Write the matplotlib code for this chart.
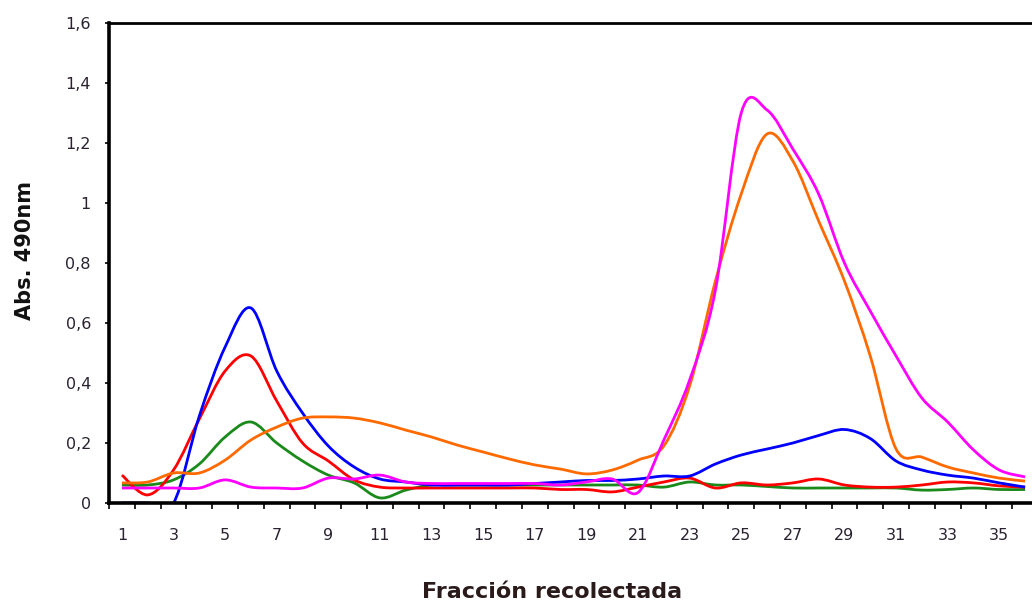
import numpy as np
import matplotlib.pyplot as plt
from matplotlib.path import Path
from matplotlib.patches import PathPatch

# fractions collected (Excel category axis 1..36)
fractions = np.arange(1, 37)

blue = [0.0, 0.0, 0.0, 0.29, 0.52, 0.65, 0.44, 0.30, 0.19, 0.12, 0.08, 0.07,
        0.06, 0.06, 0.06, 0.06, 0.065, 0.07, 0.075, 0.075, 0.08, 0.09, 0.09, 0.13,
        0.16, 0.18, 0.20, 0.225, 0.245, 0.215, 0.14, 0.11, 0.093, 0.083, 0.067, 0.053]
red = [0.093, 0.027, 0.11, 0.28, 0.44, 0.49, 0.34, 0.20, 0.14, 0.077, 0.053, 0.05,
       0.05, 0.05, 0.05, 0.05, 0.05, 0.045, 0.045, 0.037, 0.053, 0.07, 0.083, 0.05,
       0.067, 0.06, 0.067, 0.08, 0.06, 0.053, 0.053, 0.06, 0.07, 0.067, 0.057, 0.053]
green = [0.06, 0.06, 0.077, 0.13, 0.22, 0.27, 0.20, 0.14, 0.093, 0.067, 0.017, 0.043,
         0.06, 0.06, 0.06, 0.06, 0.06, 0.06, 0.06, 0.06, 0.06, 0.053, 0.07, 0.06,
         0.06, 0.055, 0.05, 0.05, 0.05, 0.05, 0.05, 0.043, 0.045, 0.05, 0.045, 0.045]
orange = [0.067, 0.07, 0.10, 0.10, 0.143, 0.21, 0.253, 0.283, 0.287, 0.283, 0.267, 0.243,
          0.22, 0.193, 0.17, 0.147, 0.127, 0.113, 0.097, 0.11, 0.143, 0.19, 0.39, 0.74,
          1.03, 1.23, 1.14, 0.94, 0.74, 0.49, 0.18, 0.153, 0.12, 0.10, 0.083, 0.073]
magenta = [0.05, 0.05, 0.05, 0.05, 0.077, 0.053, 0.05, 0.05, 0.083, 0.08, 0.093, 0.07,
           0.065, 0.065, 0.065, 0.065, 0.065, 0.06, 0.07, 0.08, 0.035, 0.21, 0.41, 0.71,
           1.30, 1.31, 1.18, 1.03, 0.80, 0.64, 0.49, 0.35, 0.27, 0.177, 0.11, 0.087]

series = [
    (green, '#1a8a1a'),
    (red, '#ff0000'),
    (blue, '#0000ff'),
    (orange, '#ff6a00'),
    (magenta, '#ff00ff'),
]

y_ticks = [0, 0.2, 0.4, 0.6, 0.8, 1.0, 1.2, 1.4, 1.6]
y_labels = ['0', '0,2', '0,4', '0,6', '0,8', '1', '1,2', '1,4', '1,6']
x_labels = [str(n) for n in range(1, 37, 2)]


def smooth_path(x, y):
    # Excel-style "smoothed line": cubic bezier through every data point
    pts = np.column_stack([x, y]).astype(float)
    n = len(pts)
    verts = [pts[0]]
    codes = [Path.MOVETO]
    for i in range(n - 1):
        p0 = pts[max(i - 1, 0)]
        p1 = pts[i]
        p2 = pts[i + 1]
        p3 = pts[min(i + 2, n - 1)]
        verts += [p1 + (p2 - p0) / 6, p2 - (p3 - p1) / 6, p2]
        codes += [Path.CURVE4] * 3
    return Path(verts, codes)


fig = plt.figure(figsize=(10.32, 6.03), dpi=100)
# axes runs past the right edge, like the cropped original
ax = fig.add_axes([109 / 1032, 100 / 603, 929 / 1032, 480 / 603])

for vals, col in series:
    ax.add_patch(PathPatch(smooth_path(fractions, vals), facecolor='none',
                           edgecolor=col, linewidth=2.0, joinstyle='round'))

ax.set_xlim(0.5, 36.5)
ax.set_ylim(0, 1.6)

# ticks between categories, labels on odd categories
ax.set_xticks(np.arange(0.5, 37, 1.0))
ax.set_xticklabels([])
ax.tick_params(axis='x', which='major', direction='out', length=4, width=1.2, color='black')
ax.set_xticks(np.arange(1, 37, 2), minor=True)
ax.set_xticklabels(x_labels, minor=True, fontsize=11.5, color='#2a2230')
ax.tick_params(axis='x', which='minor', length=0, pad=18)

ax.set_yticks(y_ticks)
ax.set_yticklabels(y_labels, fontsize=11.5, color='#2a2230')
ax.tick_params(axis='y', direction='out', length=3, width=1.2, pad=10)

for side in ['left', 'bottom']:
    ax.spines[side].set_linewidth(2.6)
ax.spines['top'].set_linewidth(2.0)
ax.spines['right'].set_visible(False)

fig.text(25 / 1032, 1 - 250 / 603, 'Abs. 490nm', rotation=90, fontsize=15,
         fontweight='bold', ha='center', va='center', color='#111111')
fig.text(552 / 1032, 1 - 592 / 603, 'Fracción recolectada', fontsize=16,
         fontweight='bold', ha='center', va='center', color='#2a1a1a')

fig.savefig('out.png', dpi=100)
